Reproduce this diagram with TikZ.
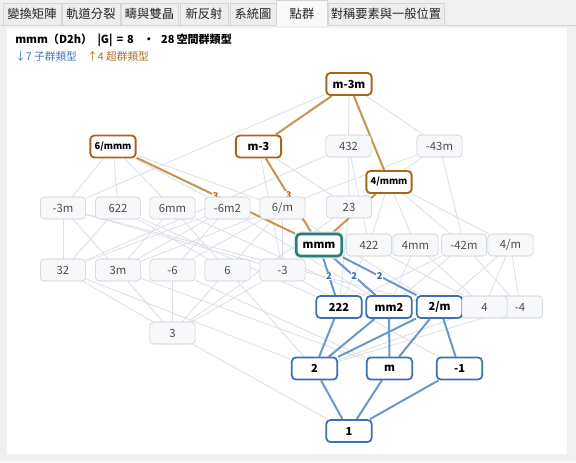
\documentclass[tikz,border=0pt]{standalone}
\usepackage{fontspec}
\setmainfont{Noto Sans CJK TC}
\definecolor{pagebg}{HTML}{F0F0F0}
\definecolor{tabline}{HTML}{D6D6D6}
\definecolor{tabfill}{HTML}{EEEEEE}
\definecolor{tabon}{HTML}{F9F9F9}
\definecolor{grpline}{HTML}{C5CAD5}
\definecolor{grpfill}{HTML}{F7F8FA}
\definecolor{grptext}{HTML}{4D4D4D}
\definecolor{supline}{HTML}{A8641C}
\definecolor{supedgecol}{HTML}{C89250}
\definecolor{supidx}{HTML}{B8661A}
\definecolor{subline}{HTML}{3A70B5}
\definecolor{subedgecol}{HTML}{6B98CB}
\definecolor{subidx}{HTML}{2F6DB5}
\definecolor{curline}{HTML}{2E7B78}
\definecolor{curglow}{HTML}{D6EAF2}
\definecolor{gedgecol}{HTML}{DCDFE7}
\definecolor{subtext}{HTML}{3B76C0}
\definecolor{suptext}{HTML}{B0701E}

\pgfdeclarelayer{panel}
\pgfdeclarelayer{edges}
\pgfsetlayers{panel,edges,main}

\tikzset{every picture/.style={line width=0.75pt}}
\tikzset{
  tab/.style={draw=tabline, fill=tabfill, minimum height=16.5pt, inner sep=0pt, text=black!85, font=\fontsize{9.2}{10}\selectfont},
  grp/.style={draw=grpline, fill=grpfill, rounded corners=3pt, minimum width=34pt, minimum height=16.5pt, inner sep=0pt, text=grptext, font=\fontsize{8.5}{10}\selectfont},
  supgrp/.style={grp, draw=supline, line width=1.4pt, fill=white, text=black, font=\fontsize{8.3}{10}\selectfont\bfseries},
  smallsup/.style={supgrp, font=\fontsize{7}{9}\selectfont\bfseries},
  subgrp/.style={grp, draw=subline, line width=1.3pt, fill=white, text=black, font=\fontsize{8.3}{10}\selectfont\bfseries},
  curgrp/.style={grp, draw=curline, line width=1.9pt, fill=white, text=black, font=\fontsize{8.3}{10}\selectfont\bfseries, preaction={draw=curglow, line width=4pt}},
  gedge/.style={draw=gedgecol, line width=0.6pt},
  supedge/.style={draw=supedgecol, line width=1.5pt},
  subedge/.style={draw=subedgecol, line width=1.5pt},
  idx/.style={fill=white, inner sep=0.6pt, font=\fontsize{7}{8}\selectfont\bfseries},
}

\begin{document}
\begin{tikzpicture}[x=0.75pt,y=0.75pt,yscale=-1,xscale=1]
\useasboundingbox (0,0) rectangle (576,462);

%Shape: Rectangle [page and panel]
\begin{pgfonlayer}{panel}
\fill[pagebg] (0,0) rectangle (576,462);
\fill[white] (7,28) rectangle (567,454);
\draw[tabline] (0,25) -- (576,25);
\end{pgfonlayer}

% Tabs
\node[tab, minimum width=43.5pt] (tab1) at (32,14) {變換矩陣};
\node[tab, minimum width=43.5pt] (tab2) at (91,14) {軌道分裂};
\node[tab, minimum width=42.75pt] (tab3) at (149.5,14) {疇與雙晶};
\node[tab, minimum width=36pt] (tab4) at (204,14) {新反射};
\node[tab, minimum width=34.5pt] (tab5) at (253,14) {系統圖};
\node[tab, draw=none, fill=tabon, minimum width=37.5pt, minimum height=19pt] (tab6) at (302,13.5) {點群};
\draw[tabline] (tab6.south west) -- (tab6.north west) -- (tab6.north east) -- (tab6.south east);
\node[tab, minimum width=87pt] (tab7) at (386,14) {對稱要素與一般位置};

% Text Node
\node[anchor=west, inner sep=0pt, font=\fontsize{8.3}{11}\selectfont\bfseries] (title) at (15,40) {mmm（D2h）\hspace{4pt}|G|\hspace{3pt}=\hspace{3pt}8\hspace{7pt}·\hspace{5pt}28\hspace{1.5pt}空間群類型};
% Text Node
\node[anchor=west, inner sep=0pt, text=subtext, font=\fontsize{8}{10}\selectfont] (nsub) at (15,56.5) {↓7 子群類型};
% Text Node
\node[anchor=west, inner sep=0pt, text=suptext, font=\fontsize{8}{10}\selectfont] (nsup) at (87,56.5) {↑4 超群類型};

% Groups
\node[supgrp] (m3m) at (349,84) {m-3m};
\node[smallsup] (p6mmm) at (113,146.5) {6/mmm};
\node[supgrp] (m3) at (258.5,146.5) {m-3};
\node[grp] (p432) at (348.5,146) {432};
\node[grp] (b43m) at (439.5,146) {-43m};
\node[smallsup] (p4mmm) at (389,182) {4/mmm};

\node[grp] (b3m) at (63,208) {-3m};
\node[grp] (p622) at (118,208) {622};
\node[grp] (p6mm) at (172.5,208) {6mm};
\node[grp] (b6m2) at (227.5,208) {-6m2};
\node[grp] (p6m) at (282.5,208) {6/m};
\node[grp] (p23) at (349,207) {23};

\node[curgrp] (mmm) at (319,245) {mmm};
\node[grp] (p422) at (369,245) {422};
\node[grp] (p4mm) at (415.5,245) {4mm};
\node[grp] (b42m) at (464,245) {-42m};
\node[grp] (p4m) at (510.5,245) {4/m};

\node[grp] (p32) at (63,270) {32};
\node[grp] (p3m) at (118,270) {3m};
\node[grp] (b6) at (172.5,270) {-6};
\node[grp] (p6) at (227.5,270) {6};
\node[grp] (b3) at (282.5,270) {-3};

\node[grp] (p3) at (172.5,333) {3};

\node[subgrp] (p222) at (339,307) {222};
\node[subgrp] (mm2) at (389,307) {mm2};
\node[subgrp] (p2m) at (439.5,307) {2/m};
\node[grp] (b4) at (520,307) {-4};
\node[grp] (p4) at (484.5,307) {4};

\node[subgrp] (p2) at (314.5,368.5) {2};
\node[subgrp] (pm) at (389.5,368.5) {m};
\node[subgrp] (b1) at (459.5,368.5) {-1};

\node[subgrp] (p1) at (349,431) {1};

% Connectors
\begin{pgfonlayer}{edges}
\foreach \a/\b in {m3m/p432, m3m/b43m, m3m/b3m,
    p6mmm/b3m, p6mmm/p622, p6mmm/p6mm, p6mmm/b6m2, p6mmm/p6m,
    m3/p23, m3/b3, p432/p23, p432/p422, p432/p32,
    b43m/p23, b43m/b42m, b43m/p3m,
    p4mmm/p4m, p4mmm/p422, p4mmm/p4mm, p4mmm/b42m,
    b3m/p32, b3m/p3m, b3m/b3, b3m/p2m,
    p622/p6, p622/p32, p622/p222,
    p6mm/p6, p6mm/p3m, p6mm/mm2,
    b6m2/b6, b6m2/p32, b6m2/p3m, b6m2/mm2,
    p6m/p6, p6m/b6, p6m/b3, p6m/p2m,
    p23/p222, p23/p3, p422/p4, p422/p222, p4mm/p4, p4mm/mm2,
    b42m/b4, b42m/p222, b42m/mm2, p4m/p4, p4m/b4, p4m/p2m,
    p32/p3, p32/p2, p3m/p3, p3m/pm, b6/p3, b6/pm, p6/p3, p6/p2,
    b3/p3, b3/b1, p3/p1, p4/p2, b4/p2}
  \draw[gedge] (\a) -- (\b);

\foreach \a/\b in {m3m/m3, m3m/p4mmm, p4mmm/mmm}
  \draw[supedge] (\a) -- (\b);
\draw[supedge] (p6mmm) -- node[idx, text=supidx] {3} (mmm);
\draw[supedge] (m3) -- node[idx, text=supidx] {3} (mmm);

\foreach \a/\b in {p222/p2, mm2/p2, mm2/pm, p2m/p2, p2m/pm, p2m/b1, p2/p1, pm/p1, b1/p1}
  \draw[subedge] (\a) -- (\b);
\foreach \b in {p222, mm2, p2m}
  \draw[subedge] (mmm) -- node[idx, text=subidx] {2} (\b);
\end{pgfonlayer}

\end{tikzpicture}
\end{document}
